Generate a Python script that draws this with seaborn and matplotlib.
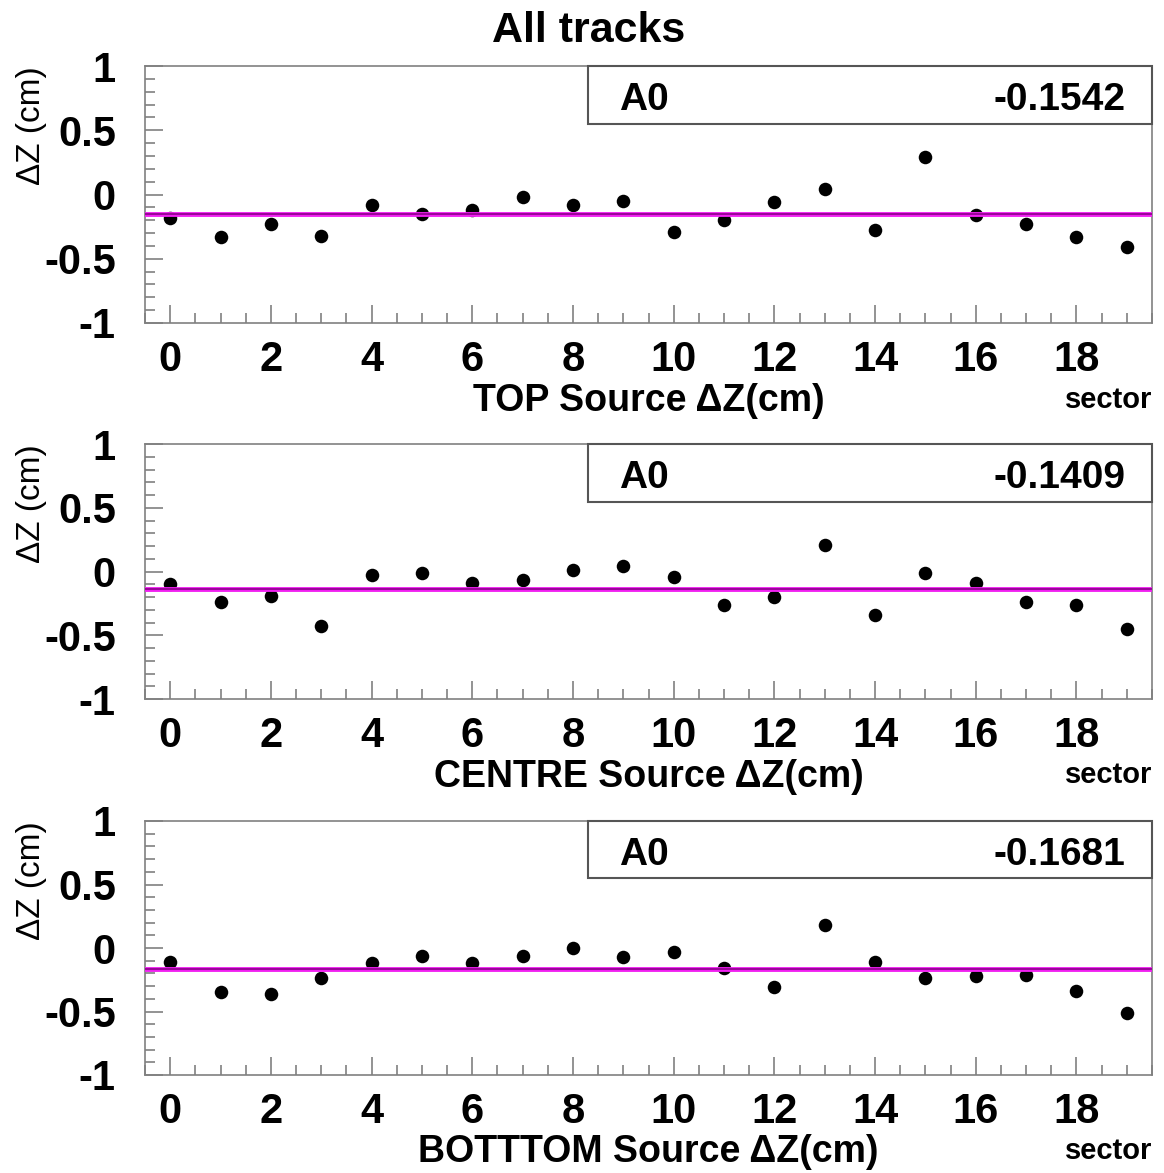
import matplotlib
matplotlib.use("Agg")
import matplotlib.pyplot as plt
import seaborn as sns
import pandas as pd
from matplotlib.ticker import MultipleLocator
from matplotlib.patches import Rectangle

# data
sectors = list(range(20))
top_dz = [-0.18, -0.33, -0.23, -0.32, -0.08, -0.15, -0.12, -0.02, -0.08, -0.05,
          -0.29, -0.20, -0.06, 0.04, -0.28, 0.29, -0.16, -0.23, -0.33, -0.41]
centre_dz = [-0.10, -0.24, -0.19, -0.43, -0.03, -0.01, -0.09, -0.07, 0.01, 0.04,
             -0.04, -0.26, -0.20, 0.21, -0.34, -0.01, -0.09, -0.24, -0.26, -0.45]
bottom_dz = [-0.11, -0.35, -0.36, -0.24, -0.12, -0.06, -0.12, -0.06, 0.00, -0.07,
             -0.03, -0.16, -0.31, 0.18, -0.11, -0.24, -0.22, -0.21, -0.34, -0.51]
a0_values = [-0.1542, -0.1409, -0.1681]
a0_labels = ["-0.1542", "-0.1409", "-0.1681"]
panel_titles = ["TOP Source \u0394Z(cm)", "CENTRE Source \u0394Z(cm)", "BOTTTOM Source \u0394Z(cm)"]
xtick_vals = [0, 2, 4, 6, 8, 10, 12, 14, 16, 18]
ytick_vals = [-1, -0.5, 0, 0.5, 1]
ytick_labels = ["-1", "-0.5", "0", "0.5", "1"]

sns.set_theme(style="white")
plt.rcParams["font.family"] = ["Liberation Sans", "DejaVu Sans"]
plt.rcParams["text.color"] = "black"
plt.rcParams["axes.labelcolor"] = "black"

W, H = 1164, 1173
fig = plt.figure(figsize=(W / 100, H / 100), dpi=100)

frame_col = "#808080"
left_px, right_px = 145, 1152
panels_px = [(66, 323), (444, 699), (821, 1075)]

for i, series in enumerate([top_dz, centre_dz, bottom_dz]):
    top_px, bot_px = panels_px[i]
    ax = fig.add_axes([left_px / W, 1 - bot_px / H,
                       (right_px - left_px) / W, (bot_px - top_px) / H])
    df = pd.DataFrame({"sector": sectors, "dz": series})
    sns.scatterplot(data=df, x="sector", y="dz", ax=ax, color="black",
                    s=95, linewidth=0, legend=False, zorder=2)
    ax.axhline(a0_values[i], color="#f020f0", lw=3.5, zorder=3)
    ax.axhline(a0_values[i], color="#8a008a", lw=1.2, zorder=3)

    ax.set_xlim(-0.5, 19.5)
    ax.set_ylim(-1, 1)
    ax.set_xticks(xtick_vals, labels=[str(v) for v in xtick_vals])
    ax.set_yticks(ytick_vals, labels=ytick_labels)
    ax.xaxis.set_minor_locator(MultipleLocator(0.5))
    ax.yaxis.set_minor_locator(MultipleLocator(0.1))
    ax.tick_params(axis="both", which="both", direction="in", color=frame_col,
                   width=1.2, bottom=True, left=True, top=False, right=False,
                   labelcolor="black")
    ax.tick_params(axis="both", which="major", length=13)
    ax.tick_params(axis="both", which="minor", length=7)
    ax.tick_params(axis="y", which="major", pad=21, labelsize=30)
    ax.tick_params(axis="x", which="major", pad=12, labelsize=30)
    for lab in ax.get_xticklabels() + ax.get_yticklabels():
        lab.set_fontweight("bold")
    for sp in ax.spines.values():
        sp.set_color(frame_col)
        sp.set_linewidth(1.2)

    ax.set_xlabel(panel_titles[i], fontsize=27, fontweight="bold")
    ax.xaxis.set_label_coords(0.5, -0.234)
    ax.xaxis.label.set_verticalalignment("top")
    ax.set_ylabel("\u0394Z (cm)", fontsize=24, loc="top")
    ax.yaxis.set_label_coords(-0.097, 1.0)

    ax.text(1.0, -0.33, "sector", transform=ax.transAxes, ha="right",
            va="baseline", fontsize=21, fontweight="bold")

    # stats box
    ax.add_patch(Rectangle((0.44, 0.774), 0.56, 0.226, transform=ax.transAxes,
                           facecolor="white", edgecolor="#555555", lw=1.5,
                           zorder=4, clip_on=False))
    ax.text(0.471, 0.868, "A0", transform=ax.transAxes, ha="left", va="center",
            fontsize=28, fontweight="bold", zorder=5)
    ax.text(0.974, 0.868, a0_labels[i], transform=ax.transAxes, ha="right",
            va="center", fontsize=28, fontweight="bold", zorder=5)

fig.text(589 / W, 1 - 42 / H, "All tracks", ha="center", va="baseline",
         fontsize=31, fontweight="bold")

fig.savefig("out.png", dpi=100)
